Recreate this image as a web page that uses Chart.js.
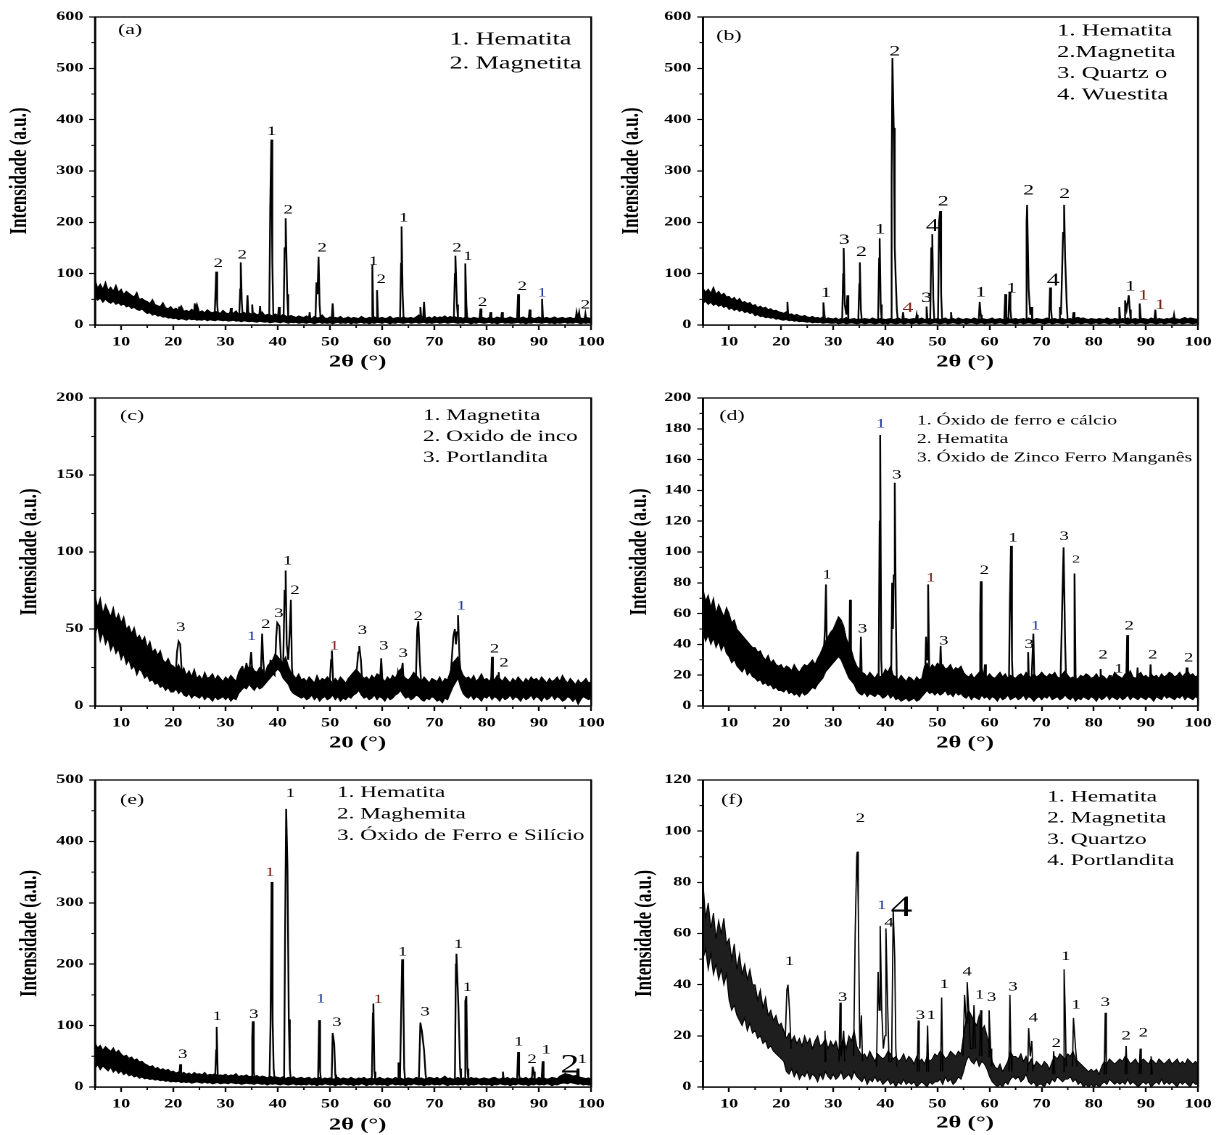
<!DOCTYPE html>
<html lang="pt">
<head>
<meta charset="utf-8">
<title>Difratogramas (a)-(f)</title>
<script src="https://cdn.jsdelivr.net/npm/chart.js@4.4.1/dist/chart.umd.min.js"></script>
<style>
  body { margin: 0; background: #fff; }
  #page { position: relative; width: 1224px; height: 1135px; overflow: hidden; }
  .cell { position: absolute; width: 422px; transform-origin: 0 0; }
  .cell canvas { display: block; }
</style>
</head>
<body>
<div id="page">
  <div class="cell" style="left:0;top:0"><canvas id="chartA" width="422" height="380"></canvas></div>
  <div class="cell" style="left:612px;top:0"><canvas id="chartB" width="422" height="380"></canvas></div>
  <div class="cell" style="left:0;top:380px"><canvas id="chartC" width="422" height="380"></canvas></div>
  <div class="cell" style="left:612px;top:380px"><canvas id="chartD" width="422" height="380"></canvas></div>
  <div class="cell" style="left:0;top:760px"><canvas id="chartE" width="422" height="375"></canvas></div>
  <div class="cell" style="left:612px;top:760px"><canvas id="chartF" width="422" height="375"></canvas></div>
</div>
<script>
// shared x ticks (2 theta, degrees)
var xTicks = [10, 20, 30, 40, 50, 60, 70, 80, 90, 100];

// noise band: upper / lower edge read every 0.5 deg from 5 to 100
// peaks: 2theta / intensity, each peak starts and ends inside the background

// (a)
var aHi = [
  90,72,80,70,84,68,74,66,78,64,
  70,60,66,62,58,55,64,50,52,48,
  46,42,50,40,38,36,44,34,32,36,
  30,33,28,38,27,29,26,31,27,42,
  25,28,24,30,26,24,27,25,23,29,
  24,22,26,23,28,21,23,25,22,24,
  21,24,20,22,26,19,21,20,18,22,
  19,17,21,18,16,19,17,15,18,16,
  15,18,14,13,17,14,15,20,14,13,
  16,13,15,14,17,13,14,16,13,15,
  14,13,17,14,13,15,14,16,13,14,
  15,13,14,17,13,14,15,13,16,14,
  14,15,13,16,20,17,15,14,16,13,
  17,14,16,15,18,14,17,15,16,14,
  15,13,16,14,13,15,14,13,16,14,
  13,15,14,13,16,14,15,13,14,16,
  14,13,15,14,16,13,14,15,13,14,
  16,13,14,15,13,14,16,13,14,15,
  13,14,15,13,14,16,14,13,15,14,
  13];
var aLo = [
  55,48,52,44,50,45,42,46,40,43,
  38,41,35,37,32,34,30,28,31,26,
  22,24,19,21,17,18,15,16,13,14,
  12,13,10,12,11,9,12,10,11,9,
  10,9,11,8,10,9,8,10,9,8,
  9,7,8,9,7,8,6,8,7,6,
  7,6,5,7,6,5,6,4,5,6,
  5,4,6,5,3,5,4,5,3,4,
  4,3,5,4,2,4,5,3,4,3,
  4,2,4,5,3,4,3,5,2,4,
  3,4,5,3,4,2,4,3,5,4,
  3,5,4,2,4,3,5,4,3,4,
  5,3,4,5,3,4,5,3,4,3,
  4,5,3,4,5,3,4,5,4,3,
  4,3,5,4,2,4,3,5,4,3,
  4,5,3,4,2,4,5,3,4,3,
  3,4,5,3,4,2,4,3,5,4,
  4,3,4,5,3,4,2,4,3,4,
  5,3,4,3,5,4,2,4,3,4,
  3];
var aPkX = [20.9,21.1,21.3, 23.9,24.1,24.3, 27.9,28.1,28.2,28.4,28.6, 30.8,31.0,31.2, 32.6,32.8,32.9,33.1,33.3, 34.0,34.2,34.4, 34.9,35.1,35.3, 36.4,36.6,36.8, 38.35,38.55,38.75,38.95,39.15, 40.0,40.2,40.4, 41.1,41.3,41.5,41.8,42.0, 45.9,46.1,46.3, 47.2,47.4,47.6,47.8,48.0,48.2, 50.3,50.5,50.7, 57.9,58.1,58.3, 58.8,59.0,59.2, 63.4,63.6,63.7,63.9,64.1, 67.1,67.3,67.5, 67.8,68.0,68.2, 73.7,73.9,74.0,74.3,74.5, 75.7,75.9,76.1,76.3, 78.6,78.8,79.0, 80.5,80.7,80.9, 82.7,82.9,83.1, 85.8,86.0,86.2, 88.0,88.2,88.4, 90.4,90.6,90.8, 97.0,97.2,97.45,97.7,97.9, 98.7,98.9,99.1];
var aPkY = [18,36,18, 16,42,16, 15,70,104,40,15, 15,33,15, 14,70,122,45,14, 14,58,14, 13,40,13, 12,37,12, 12,228,361,120,12, 12,35,12, 12,150,208,60,12, 9,25,9, 9,83,60,133,40,9, 9,42,9, 9,118,9, 9,68,9, 9,120,192,60,9, 10,35,10, 10,45,10, 10,100,135,40,10, 9,120,40,9, 9,32,9, 9,25,9, 9,25,9, 9,60,9, 9,30,9, 9,51,9, 9,25,12,25,9, 9,22,9];
var aYTicks = [0, 100, 200, 300, 400, 500, 600];
var aLabX = [28.6, 33.2, 38.8, 42.0, 48.5, 58.3, 59.8, 64.1, 74.3, 76.4, 79.2, 86.8, 90.6, 98.9];
var aLabY = [120, 136, 377, 224, 150, 124, 88, 208, 150, 133, 44, 75, 62, 39];
var aLabT = ['2','2','1','2','2','1','2','1','2','1','2','2','1','2'];
var aLegend = ['1. Hematita', '2. Magnetita'];

// (b)
var bHi = [
  72,64,70,62,74,60,66,58,62,55,
  56,50,54,47,52,44,46,42,44,38,
  40,34,37,33,35,30,32,28,29,26,
  25,23,26,21,22,19,21,18,17,19,
  16,15,17,14,15,13,16,12,14,13,
  12,14,11,13,12,15,11,12,13,11,
  12,11,13,12,11,14,12,11,13,12,
  11,12,13,11,12,14,11,12,13,11,
  12,13,11,12,14,11,12,13,11,12,
  13,11,12,14,11,12,13,11,14,12,
  11,13,12,11,14,12,11,13,12,11,
  12,14,11,12,13,11,12,14,11,12,
  13,11,12,13,11,14,12,11,13,12,
  11,12,14,11,12,13,11,12,13,11,
  12,13,11,14,15,13,14,12,11,13,
  12,11,13,12,11,14,12,11,13,12,
  11,13,12,14,11,12,13,11,12,13,
  12,11,14,12,11,13,12,11,13,12,
  14,13,12,11,13,15,12,14,13,12,
  11];
var bLo = [
  42,46,40,44,38,41,36,39,34,37,
  30,33,28,31,26,29,24,26,22,24,
  18,20,16,17,14,15,13,14,11,12,
  10,9,11,8,9,7,8,6,7,6,
  5,6,4,5,4,5,3,4,4,3,
  3,4,2,3,4,2,3,4,3,2,
  3,4,2,3,4,3,2,3,4,2,
  3,2,4,3,2,3,4,2,3,4,
  2,3,4,2,3,4,3,2,3,4,
  3,2,3,4,2,3,4,3,2,3,
  4,2,3,4,3,2,3,4,2,3,
  3,4,2,3,4,3,2,3,4,3,
  2,3,4,2,3,4,3,2,3,4,
  3,2,3,4,2,3,4,3,2,3,
  4,3,2,3,4,2,3,4,3,2,
  3,4,2,3,4,3,2,3,4,2,
  3,4,3,2,3,4,2,3,4,3,
  2,3,4,3,2,3,4,2,3,4,
  3,2,3,4,2,3,4,3,2,3,
  3];
var bPkX = [21.0,21.2,21.4, 27.9,28.1,28.3,28.5, 31.7,31.9,32.0,32.2,32.5,32.7,32.9, 34.8,35.0,35.1,35.3,35.5, 38.6,38.8,38.9,39.1,39.3, 41.0,41.2,41.35,41.6,41.8,42.0,42.2,42.4, 43.2,43.4,43.6, 45.8,46.0,46.2, 47.7,47.9,48.1, 48.6,48.8,49.0,49.2,49.4, 50.1,50.3,50.5,50.7,50.9, 52.4,52.6,52.8, 57.9,58.1,58.3,58.5, 62.8,63.0,63.2,63.6,63.8,64.0,64.2, 66.9,67.1,67.2,67.5,67.8,68.0,68.2, 71.4,71.6,71.8,72.0, 73.3,73.5,73.7,74.1,74.3,74.5,74.8,75.0, 75.9,76.1,76.3, 84.7,84.9,85.1, 85.8,86.0,86.3,86.7,86.9,87.1, 88.6,88.8,89.0,89.2, 91.6,91.8,92.0, 95.2,95.4,95.6];
var bPkY = [10,45,10, 7,44,20,7, 7,100,150,40,20,58,7, 7,80,122,30,7, 7,130,169,40,7, 7,290,520,384,150,85,30,7, 7,25,7, 7,20,7, 7,36,7, 7,150,177,50,7, 7,200,222,60,7, 7,25,7, 7,45,20,7, 7,60,10,10,65,30,7, 7,200,234,70,20,35,7, 7,73,30,7, 7,35,20,180,234,130,40,7, 7,25,7, 7,35,7, 7,48,30,58,30,7, 7,42,15,7, 7,30,7, 7,20,7];
var bYTicks = [0, 100, 200, 300, 400, 500, 600];
var bLabX = [28.6, 32.1, 35.4, 39.0, 41.8, 44.3, 47.9, 49.0, 51.1, 58.3, 64.2, 67.5, 72.2, 74.4, 87.0, 89.5, 92.7];
var bLabY = [62, 165, 142, 186, 533, 33, 52, 192, 240, 63, 71, 262, 86, 255, 75, 57, 39];
var bLabT = ['1','3','2','1','2','4','3','4','2','1','1','2','4','2','1','1','1'];
var bLegend = ['1. Hematita', '2.Magnetita', '3. Quartz o', '4. Wuestita'];

// (c)
var cHi = [
  72,64,70,60,66,62,58,64,56,60,
  54,58,50,52,47,51,44,46,42,45,
  38,42,35,37,33,36,30,28,31,27,
  26,24,27,22,25,20,23,19,24,18,
  20,17,22,18,19,21,17,20,18,16,
  19,17,20,18,16,22,25,23,27,24,
  26,23,22,25,24,20,26,28,30,34,
  32,30,28,32,26,22,20,18,21,17,
  18,16,19,17,15,20,16,18,17,19,
  17,15,18,16,19,17,15,18,20,22,
  24,22,20,18,19,17,20,18,21,20,
  18,16,19,17,20,18,22,24,20,18,
  17,19,22,20,18,16,19,17,15,18,
  17,16,19,15,18,17,22,28,30,32,
  24,20,18,19,17,20,16,18,21,17,
  18,16,19,17,20,18,16,19,17,15,
  18,16,19,17,15,18,16,19,17,18,
  16,19,17,15,18,16,17,19,16,20,
  17,15,18,16,14,17,15,16,18,15,
  16];
var cLo = [
  46,52,42,48,40,44,36,40,34,37,
  30,34,27,30,24,26,20,24,22,18,
  20,16,17,14,15,12,13,10,12,9,
  9,11,8,10,7,6,8,5,7,6,
  5,7,4,6,5,3,6,4,5,6,
  4,6,3,5,4,8,10,12,11,14,
  12,10,13,11,12,14,16,18,20,22,
  24,22,18,16,14,10,8,7,6,5,
  6,4,5,7,4,6,3,5,6,4,
  5,7,4,6,3,5,4,6,5,7,
  8,10,7,5,6,4,5,7,4,6,
  5,3,6,4,5,7,8,10,7,5,
  6,4,5,7,6,4,3,5,4,6,
  5,3,4,2,5,4,8,12,15,18,
  12,8,6,5,7,4,6,5,3,6,
  5,7,4,6,5,3,6,4,5,7,
  4,6,5,3,6,4,5,7,4,6,
  5,3,6,4,5,7,4,6,5,3,
  4,6,5,3,5,1,4,6,5,4,
  5];
var cPkX = [20.4,20.7,21.0,21.3,21.6,21.9, 32.9,33.2,33.6,34.0,34.4,34.9,35.2,35.5, 36.7,37.0,37.2,37.5, 38.3,38.6,38.9, 39.4,39.7,39.9,40.3,40.6,40.9,41.0,41.3,41.5,41.7,42.0,42.3,42.5,42.7,43.0, 49.9,50.2,50.35,50.6, 54.9,55.4,55.6,55.9,56.2, 59.5,59.8,60.0,60.3, 62.6,63.0,63.4,63.9,64.1,64.4, 66.4,66.7,66.9,67.2,67.5, 73.0,73.3,73.6,73.9,74.1,74.3,74.5,74.8,75.2, 80.8,81.0,81.2, 82.1,82.3,82.5, 94.1,94.3,94.5];
var cPkY = [18,35,42,40,22,14, 12,26,18,28,18,35,18,15, 15,47,30,18, 18,30,22, 20,45,54,52,30,22,22,75,88,40,30,50,69,25,15, 12,30,36,15, 14,35,39,30,14, 12,31,18,12, 12,22,15,28,15,12, 12,50,55,28,12, 15,30,45,50,40,48,59,30,15, 12,32,15, 12,22,10, 12,17,12];
var cYTicks = [0, 50, 100, 150, 200];
var cLabX = [21.4, 35.0, 37.7, 40.2, 41.9, 43.3, 50.8, 56.2, 60.3, 64.0, 66.9, 75.1, 81.5, 83.3];
var cLabY = [51, 45, 53, 60, 94, 75, 39, 49, 39, 34, 58, 65, 37, 28];
var cLabT = ['3','1','2','3','1','2','1','3','3','3','2','1','2','2'];
var cLegend = ['1. Magnetita', '2. Oxido de inco', '3. Portlandita'];

// (d)
var dHi = [
  76,68,72,64,70,60,66,62,58,64,
  60,54,56,50,48,46,44,42,40,38,
  38,35,36,32,30,33,28,30,27,26,
  27,24,26,25,23,27,24,22,25,27,
  26,28,30,27,31,34,38,42,45,48,
  50,54,58,56,52,44,40,36,30,26,
  24,22,21,19,22,20,18,21,19,20,
  24,22,26,20,19,17,20,18,16,19,
  18,16,19,17,18,26,28,24,27,25,
  28,26,27,24,25,27,23,25,24,26,
  22,20,19,21,18,20,22,24,20,19,
  21,19,18,20,22,19,21,18,20,19,
  18,20,21,19,22,20,18,21,19,20,
  22,20,19,21,20,22,19,18,21,23,
  20,18,19,17,18,20,19,21,20,18,
  19,21,18,20,19,17,20,18,22,20,
  19,18,21,20,23,19,18,20,22,19,
  20,18,21,19,20,18,21,19,20,22,
  21,19,20,22,19,21,23,20,21,19,
  20];
var dLo = [
  48,42,46,40,44,38,42,36,40,34,
  32,28,30,26,24,22,25,20,22,19,
  18,16,17,14,15,13,14,11,12,10,
  10,9,11,8,9,7,8,6,9,7,
  8,10,12,11,14,16,18,22,24,26,
  28,30,32,30,26,22,18,16,14,10,
  8,7,9,6,8,7,6,8,7,5,
  6,8,5,7,4,5,3,4,5,3,
  4,5,3,4,6,8,10,8,9,7,
  9,7,8,10,7,8,6,9,7,8,
  6,5,7,4,6,5,4,7,5,6,
  4,6,5,3,6,4,5,7,4,5,
  6,4,5,7,4,6,5,3,5,6,
  4,6,5,7,4,5,6,4,5,7,
  5,4,6,3,5,4,6,5,4,6,
  5,3,6,4,5,7,4,6,5,4,
  6,4,5,7,4,6,5,4,6,5,
  4,6,5,3,6,5,4,7,5,6,
  5,4,6,5,7,4,6,5,4,6,
  5];
var dPkX = [28.1,28.4,28.6,28.8,29.0, 30.8,31.1,31.4, 32.9,33.1,33.2,33.4,33.6, 35.1,35.3,35.5, 38.7,38.9,39.0,39.2,39.4, 41.1,41.3,41.45,41.6,41.8,42.0,42.2, 47.6,47.8,48.0,48.2,48.4,48.6, 50.4,50.6,50.8, 58.0,58.2,58.3,58.5,58.8,59.1,59.3, 63.7,63.9,64.1,64.3,64.5, 67.2,67.4,67.6,68.0,68.4,68.6,68.8, 73.6,73.9,74.2,74.5,74.7, 76.1,76.3,76.5,76.7, 81.1,81.3,81.5, 83.1,83.3,83.6,83.9,84.1, 86.2,86.4,86.6,86.8, 88.2,88.4,88.6, 90.7,90.9,91.1, 97.6,97.8,98.0];
var dPkY = [30,50,79,30,30, 40,57,40, 20,40,69,25,20, 14,45,15, 14,120,176,30,14, 15,80,50,85,145,60,14, 15,45,30,79,25,15, 16,39,18, 12,60,81,25,12,27,12, 12,70,104,30,12, 12,35,10,12,47,15,12, 14,60,103,40,14, 12,86,20,12, 12,24,12, 12,20,12,20,12, 12,46,15,12, 12,25,12, 12,27,12, 12,25,12];
var dYTicks = [0, 20, 40, 60, 80, 100, 120, 140, 160, 180, 200];
var dLabX = [28.8, 35.6, 39.1, 42.2, 48.7, 51.2, 59.0, 64.5, 67.6, 68.8, 74.3, 76.6, 81.8, 84.8, 86.8, 91.3, 98.2];
var dLabY = [85, 50, 183, 150, 83, 42, 88, 109, 40, 52, 110, 95, 33, 24, 52, 33, 31];
var dLabT = ['1','3','1','3','1','3','2','1','3','1','3','2','2','1','2','2','2'];
var dLegend = ['1. Óxido de ferro e cálcio', '2. Hematita', '3. Óxido de Zinco Ferro Manganês'];

// (e)
var eHi = [
  72,64,68,60,66,62,58,64,56,60,
  54,50,52,47,49,44,46,41,42,38,
  36,33,35,30,32,28,30,27,29,25,
  26,23,25,22,24,21,23,20,24,21,
  22,20,24,19,21,20,22,18,20,19,
  21,18,20,19,22,17,19,18,20,17,
  18,17,19,16,18,17,15,18,16,17,
  16,15,17,14,16,15,17,14,15,16,
  14,15,16,13,15,14,16,13,15,14,
  15,13,14,16,13,15,14,13,16,14,
  13,15,14,16,13,14,15,13,14,16,
  14,13,15,14,13,16,14,15,13,14,
  15,14,13,16,14,15,13,14,16,15,
  14,16,13,15,18,14,15,13,14,16,
  13,15,14,13,16,14,15,13,14,15,
  14,13,15,16,14,13,15,14,16,13,
  15,14,13,15,14,16,13,15,14,13,
  16,14,15,13,14,16,15,14,18,20,
  22,21,20,18,19,17,16,15,14,15,
  13];
var eLo = [
  30,36,28,34,30,26,32,24,28,22,
  26,20,23,18,20,16,18,14,16,13,
  14,12,13,11,12,10,11,9,10,8,
  9,8,9,7,8,7,8,6,7,8,
  7,6,8,6,7,5,6,7,5,6,
  6,5,7,6,5,6,4,5,6,5,
  5,4,6,5,4,5,3,5,4,5,
  4,3,5,4,3,4,5,3,4,3,
  4,3,5,3,4,2,4,3,5,4,
  3,4,2,4,3,5,4,3,4,2,
  4,3,5,4,2,4,3,5,3,4,
  3,4,2,4,5,3,4,3,4,2,
  4,3,5,4,3,4,2,4,3,5,
  3,4,3,5,4,2,4,3,4,3,
  4,3,5,2,4,3,4,5,3,4,
  3,4,2,4,3,5,4,3,4,2,
  4,3,5,4,3,4,2,4,3,5,
  3,4,3,5,4,2,4,3,5,6,
  6,5,7,6,5,4,5,3,4,3,
  3];
var ePkX = [21.1,21.3,21.5, 28.0,28.2,28.3,28.5,28.7, 34.9,35.1,35.2,35.4,35.6, 38.4,38.6,38.8,39.0,39.2,39.4, 41.2,41.4,41.6,41.85,42.1,42.3,42.5, 47.7,47.9,48.1,48.3, 50.3,50.5,50.8,51.0,51.2, 58.0,58.2,58.3,58.5,58.7, 62.9,63.1,63.4,63.8,64.0,64.2,64.4, 67.0,67.3,67.6,68.0,68.3,68.5, 73.9,74.1,74.2,74.6,74.9,75.1, 75.7,75.9,76.1,76.3,76.5, 82.9,83.1,83.3, 85.8,86.0,86.2,86.4, 88.6,88.8,89.0,89.2, 90.5,90.7,90.9, 94.8,95.0,95.2, 97.2,97.4,97.6];
var ePkY = [15,37,15, 12,60,98,20,12, 11,80,107,25,11, 10,100,334,110,30,10, 10,260,453,355,110,30,10, 9,109,25,9, 9,88,70,20,9, 9,120,136,25,9, 9,40,15,208,180,30,9, 9,105,90,60,20,9, 9,200,217,125,30,9, 9,140,148,30,9, 9,25,9, 9,57,20,9, 9,33,25,9, 9,42,10, 14,20,14, 12,30,12];
var eYTicks = [0, 100, 200, 300, 400, 500];
var eLabX = [21.8, 28.4, 35.4, 38.5, 42.4, 48.2, 51.3, 59.2, 63.9, 68.2, 74.6, 76.3, 86.1, 88.7, 91.4, 95.9, 98.3];
var eLabY = [53, 115, 118, 349, 478, 143, 105, 142, 220, 122, 232, 162, 73, 45, 60, 35, 45];
var eLabT = ['3','1','3','1','1','1','3','1','1','3','1','1','1','2','1','2','1'];
var eLegend = ['1. Hematita', '2. Maghemita', '3. Óxido de Ferro e Silício'];

// (f)
var fHi = [
  80,66,72,62,68,58,65,60,66,56,
  58,50,56,46,52,44,48,42,46,40,
  40,34,38,31,35,28,30,26,28,24,
  25,22,19,21,18,20,17,19,16,20,
  17,19,15,18,20,16,17,19,15,18,
  16,18,14,17,19,15,20,18,22,16,
  14,12,13,11,14,12,10,13,12,11,
  12,14,13,11,12,10,11,13,10,12,
  11,9,12,10,11,9,12,10,11,13,
  12,14,13,11,12,14,13,12,14,13,
  20,26,30,28,26,24,28,22,24,20,
  16,10,8,7,9,6,8,10,14,12,
  12,11,13,10,12,9,11,8,10,9,
  8,10,9,7,10,12,11,13,12,11,
  13,12,14,11,10,9,8,7,6,7,
  6,7,5,8,10,9,11,10,9,10,
  11,10,12,11,9,10,11,9,10,11,
  10,9,11,10,9,11,10,9,10,11,
  9,10,11,9,10,9,11,10,9,10,
  9];
var fLo = [
  50,54,46,52,44,48,42,46,40,44,
  34,30,32,28,26,24,27,22,25,21,
  22,19,20,17,18,15,16,14,13,12,
  11,10,6,5,7,4,6,3,5,4,
  6,3,5,4,2,5,3,6,4,3,
  5,3,4,6,3,4,5,3,6,4,
  3,2,4,1,3,2,4,2,3,1,
  2,3,1,2,0,2,1,3,1,2,
  1,2,0,1,2,1,0,2,1,2,
  2,3,1,4,2,3,1,2,4,3,
  6,10,12,10,9,11,8,10,9,7,
  4,2,1,0,1,0,2,1,3,4,
  3,4,2,3,5,2,1,2,0,1,
  1,0,2,1,3,2,4,3,2,3,
  3,4,2,3,1,2,0,1,0,1,
  0,1,0,1,2,1,3,2,1,2,
  1,2,1,3,1,2,1,0,1,2,
  1,2,0,1,2,1,3,1,2,1,
  2,1,0,2,1,2,1,0,2,1,
  1];
var fPkX = [20.8,21.1,21.3,21.6,21.9, 28.2,28.4,28.6, 31.1,31.3,31.5,32.0,32.2, 33.9,34.2,34.5,34.6,34.8,35.1,35.4,35.6, 38.3,38.6,38.8,39.0,39.3,39.6,39.9,40.1,40.4,40.7, 41.2,41.5,41.8,42.0,42.2, 46.1,46.3,46.5, 47.9,48.1,48.3, 50.6,50.8,51.0, 54.9,55.2,55.5,55.7,56.0,56.3, 56.8,57.0,57.3, 58.1,58.3,58.5, 59.7,59.9,60.2,60.4, 63.7,63.9,64.1,64.3, 67.3,67.5,67.8,68.1,68.3, 72.1,72.3,72.5, 74.1,74.3,74.5,74.7, 75.9,76.1,76.5,76.8, 82.0,82.2,82.4, 86.0,86.2,86.4, 88.7,88.9,89.1, 90.8,91.0,91.2];
var fPkY = [20,38,40,30,15, 10,22,10, 10,33,12,22,10, 12,60,90,92,70,15,28,10, 8,45,30,63,30,15,20,62,35,10, 10,69,50,15,8, 6,26,6, 6,24,6, 6,35,6, 12,36,25,41,30,15, 15,32,15, 12,30,12, 12,30,15,8, 6,36,12,6, 6,23,12,18,6, 5,14,5, 6,46,30,8, 8,27,15,8, 5,29,5, 5,16,5, 5,15,5, 5,12,5];
var fYTicks = [0, 20, 40, 60, 80, 100, 120];
var fLabX = [21.6, 31.8, 35.2, 39.3, 40.7, 43.1, 46.7, 48.8, 51.3, 55.7, 58.1, 60.4, 64.5, 68.4, 72.8, 74.6, 76.6, 82.2, 86.2, 89.5];
var fLabY = [49, 35, 105, 71, 64, 70, 28, 28, 40, 45, 36, 35, 39, 27, 17, 51, 32, 33, 20, 21];
var fLabT = ['1','3','2','1','4','4','3','1','1','4','1','3','3','4','2','1','1','3','2','2'];
var fLegend = ['1. Hematita', '2. Magnetita', '3. Quartzo', '4. Portlandita'];

// the source figure is stretched sideways, so every panel is drawn narrow and widened
var S = 612 / 422;
var SERIF = '"Liberation Serif", "Times New Roman", serif';
var INK = { k: '#000', b: '#22389a', r: '#7a2418' };

function bandSeries(vals) {
    return vals.map(function(v, i) { return { x: 5 + i * 0.5, y: v }; });
}

// one line through all peaks, broken between peak groups
function peakSeries(pkX, pkY) {
    var pts = [];
    pkX.forEach(function(x, i) {
        if (i > 0 && x - pkX[i - 1] > 0.6) pts.push({ x: (x + pkX[i - 1]) / 2, y: null });
        pts.push({ x: x, y: pkY[i] });
    });
    return pts;
}

var panels = {};

var decorPlugin = {
    id: 'decor',
    afterDraw: function(chart) {
        var p = panels[chart.canvas.id];
        var ctx = chart.ctx, area = chart.chartArea;
        var xs = chart.scales.x, ys = chart.scales.y;
        ctx.save();
        ctx.strokeStyle = '#000';
        ctx.lineWidth = 1.3;
        ctx.strokeRect(area.left, area.top, area.right - area.left, area.bottom - area.top);

        // minor ticks
        ctx.lineWidth = 1;
        ctx.beginPath();
        xTicks.forEach(function(v) {
            var px = xs.getPixelForValue(v - 5);
            ctx.moveTo(px, area.bottom);
            ctx.lineTo(px, area.bottom + 3);
        });
        for (var i = 0; i < p.yTicks.length - 1; i++) {
            var py = ys.getPixelForValue((p.yTicks[i] + p.yTicks[i + 1]) / 2);
            ctx.moveTo(area.left, py);
            ctx.lineTo(area.left - 2.5, py);
        }
        ctx.stroke();

        // peak labels
        ctx.textAlign = 'center';
        ctx.textBaseline = 'middle';
        p.labX.forEach(function(x, k) {
            var size = (p.sizes && p.sizes[k]) || p.labSize;
            ctx.font = size + 'px ' + SERIF;
            ctx.fillStyle = INK[(p.inks && p.inks[k]) || 'k'];
            ctx.fillText(p.labT[k], xs.getPixelForValue(x), ys.getPixelForValue(p.labY[k]));
        });

        // legend text
        ctx.fillStyle = '#000';
        ctx.textAlign = 'left';
        ctx.font = p.legSize + 'px ' + SERIF;
        p.legend.forEach(function(t, k) {
            ctx.fillText(t, p.legX, p.legY + k * p.legGap);
        });

        // panel tag
        ctx.textAlign = 'center';
        ctx.font = '15px ' + SERIF;
        ctx.fillText(p.tag, p.tagX, p.tagY);

        // x axis title
        ctx.font = 'bold 17px ' + SERIF;
        ctx.fillText(p.xTitle, (area.left + area.right) / 2 + 10, p.xTitleY);
        ctx.restore();
    }
};

function makeChart(id, p) {
    panels[id] = p;
    var tickFont = { family: SERIF, size: 12.5, weight: 'bold' };
    var ctx = document.getElementById(id).getContext('2d');
    return new Chart(ctx, {
        type: 'line',
        data: {
            datasets: [{
                label: 'picos',
                data: peakSeries(p.pkX, p.pkY),
                borderColor: '#000', borderWidth: p.lw,
                pointRadius: 0, tension: 0, fill: false, spanGaps: false
            }, {
                label: 'fundo (sup.)',
                data: bandSeries(p.hi),
                borderColor: '#000', borderWidth: 0.7,
                pointRadius: 0, tension: 0, fill: false
            }, {
                label: 'fundo (inf.)',
                data: bandSeries(p.lo),
                borderColor: '#000', borderWidth: 0.7,
                backgroundColor: p.band,
                pointRadius: 0, tension: 0, fill: '-1'
            }]
        },
        options: {
            responsive: false,
            animation: false,
            devicePixelRatio: 2,
            layout: { padding: { left: 0, right: p.padR, top: p.padT, bottom: 0 } },
            plugins: { legend: { display: false }, tooltip: { enabled: false } },
            scales: {
                x: {
                    type: 'linear', min: 5, max: 100,
                    afterBuildTicks: function(s) { s.ticks = xTicks.map(function(v) { return { value: v }; }); },
                    afterFit: function(s) { s.height = p.xH; },
                    grid: { drawOnChartArea: false, tickLength: 5, color: '#000', tickWidth: 1.2 },
                    border: { color: '#000', width: 1.3 },
                    ticks: { color: '#000', font: tickFont, padding: 5, maxRotation: 0, autoSkip: false }
                },
                y: {
                    type: 'linear', min: 0, max: p.yTicks[p.yTicks.length - 1],
                    afterBuildTicks: function(s) { s.ticks = p.yTicks.map(function(v) { return { value: v }; }); },
                    afterFit: function(s) { s.width = p.yW; },
                    grid: { drawOnChartArea: false, tickLength: 4, color: '#000', tickWidth: 1.2 },
                    border: { color: '#000', width: 1.3 },
                    ticks: { color: '#000', font: tickFont, padding: 4, autoSkip: false },
                    title: {
                        display: true, text: 'Intensidade (a.u.)', color: '#000',
                        font: { family: SERIF, size: 17, weight: 'bold', lineHeight: 1 },
                        padding: { top: p.yTitlePad, bottom: 0 }
                    }
                }
            }
        },
        plugins: [decorPlugin]
    });
}

document.addEventListener('DOMContentLoaded', function() {
    var cells = document.querySelectorAll('.cell');
    for (var i = 0; i < cells.length; i++) cells[i].style.transform = 'scaleX(' + S + ')';

    makeChart('chartA', {
        hi: aHi, lo: aLo, pkX: aPkX, pkY: aPkY, yTicks: aYTicks, band: '#000',
        labX: aLabX, labY: aLabY, labT: aLabT, labSize: 13, inks: { 12: 'b' },
        legend: aLegend, legX: 310, legY: 40, legGap: 24, legSize: 18,
        tag: '(a)', tagX: 89.7, tagY: 30, xTitle: '2θ (°)', xTitleY: 362,
        yW: 95 / S, padR: 20 / S, padT: 17, xH: 55, yTitlePad: 5.3, lw: 1.2
    });
    makeChart('chartB', {
        hi: bHi, lo: bLo, pkX: bPkX, pkY: bPkY, yTicks: bYTicks, band: '#000',
        labX: bLabX, labY: bLabY, labT: bLabT, labSize: 15,
        inks: { 5: 'r', 15: 'r', 16: 'r' }, sizes: { 7: 18, 12: 18 },
        legend: bLegend, legX: 445 / S, legY: 31, legGap: 21.3, legSize: 17,
        tag: '(b)', tagX: 117 / S, tagY: 36, xTitle: '2θ (°)', xTitleY: 362,
        yW: 91 / S, padR: 26 / S, padT: 17, xH: 55, yTitlePad: 5.3, lw: 1.2
    });
    makeChart('chartC', {
        hi: cHi, lo: cLo, pkX: cPkX, pkY: cPkY, yTicks: cYTicks, band: '#000',
        labX: cLabX, labY: cLabY, labT: cLabT, labSize: 13, inks: { 1: 'b', 6: 'r', 11: 'b' },
        legend: cLegend, legX: 423 / S, legY: 36, legGap: 21, legSize: 16,
        tag: '(c)', tagX: 132 / S, tagY: 36, xTitle: '20 (°)', xTitleY: 363,
        yW: 95 / S, padR: 20 / S, padT: 18, xH: 54, yTitlePad: 12.2, lw: 1.2
    });
    makeChart('chartD', {
        hi: dHi, lo: dLo, pkX: dPkX, pkY: dPkY, yTicks: dYTicks, band: '#000',
        labX: dLabX, labY: dLabY, labT: dLabT, labSize: 13,
        inks: { 2: 'b', 4: 'r', 9: 'b' }, sizes: { 11: 11 },
        legend: dLegend, legX: 305 / S, legY: 41, legGap: 18.5, legSize: 13.5,
        tag: '(d)', tagX: 120 / S, tagY: 36, xTitle: '2θ (°)', xTitleY: 363,
        yW: 91 / S, padR: 26 / S, padT: 18, xH: 54, yTitlePad: 10.8, lw: 1.2
    });
    makeChart('chartE', {
        hi: eHi, lo: eLo, pkX: ePkX, pkY: ePkY, yTicks: eYTicks, band: '#000',
        labX: eLabX, labY: eLabY, labT: eLabT, labSize: 13,
        inks: { 3: 'r', 5: 'b', 7: 'r' }, sizes: { 15: 26 },
        legend: eLegend, legX: 337 / S, legY: 33, legGap: 21.5, legSize: 16,
        tag: '(e)', tagX: 132 / S, tagY: 40, xTitle: '2θ (°)', xTitleY: 365,
        yW: 95 / S, padR: 20 / S, padT: 20, xH: 48, yTitlePad: 12.2, lw: 1.2
    });
    makeChart('chartF', {
        hi: fHi, lo: fLo, pkX: fPkX, pkY: fPkY, yTicks: fYTicks, band: '#1e1e1e',
        labX: fLabX, labY: fLabY, labT: fLabT, labSize: 13,
        inks: { 3: 'b' }, sizes: { 5: 30 },
        legend: fLegend, legX: 435 / S, legY: 37, legGap: 21.3, legSize: 16.3,
        tag: '(f)', tagX: 120 / S, tagY: 40, xTitle: '2θ (°)', xTitleY: 363,
        yW: 91 / S, padR: 26 / S, padT: 20, xH: 48, yTitlePad: 14.3, lw: 0.9
    });
});
</script>
</body>
</html>
